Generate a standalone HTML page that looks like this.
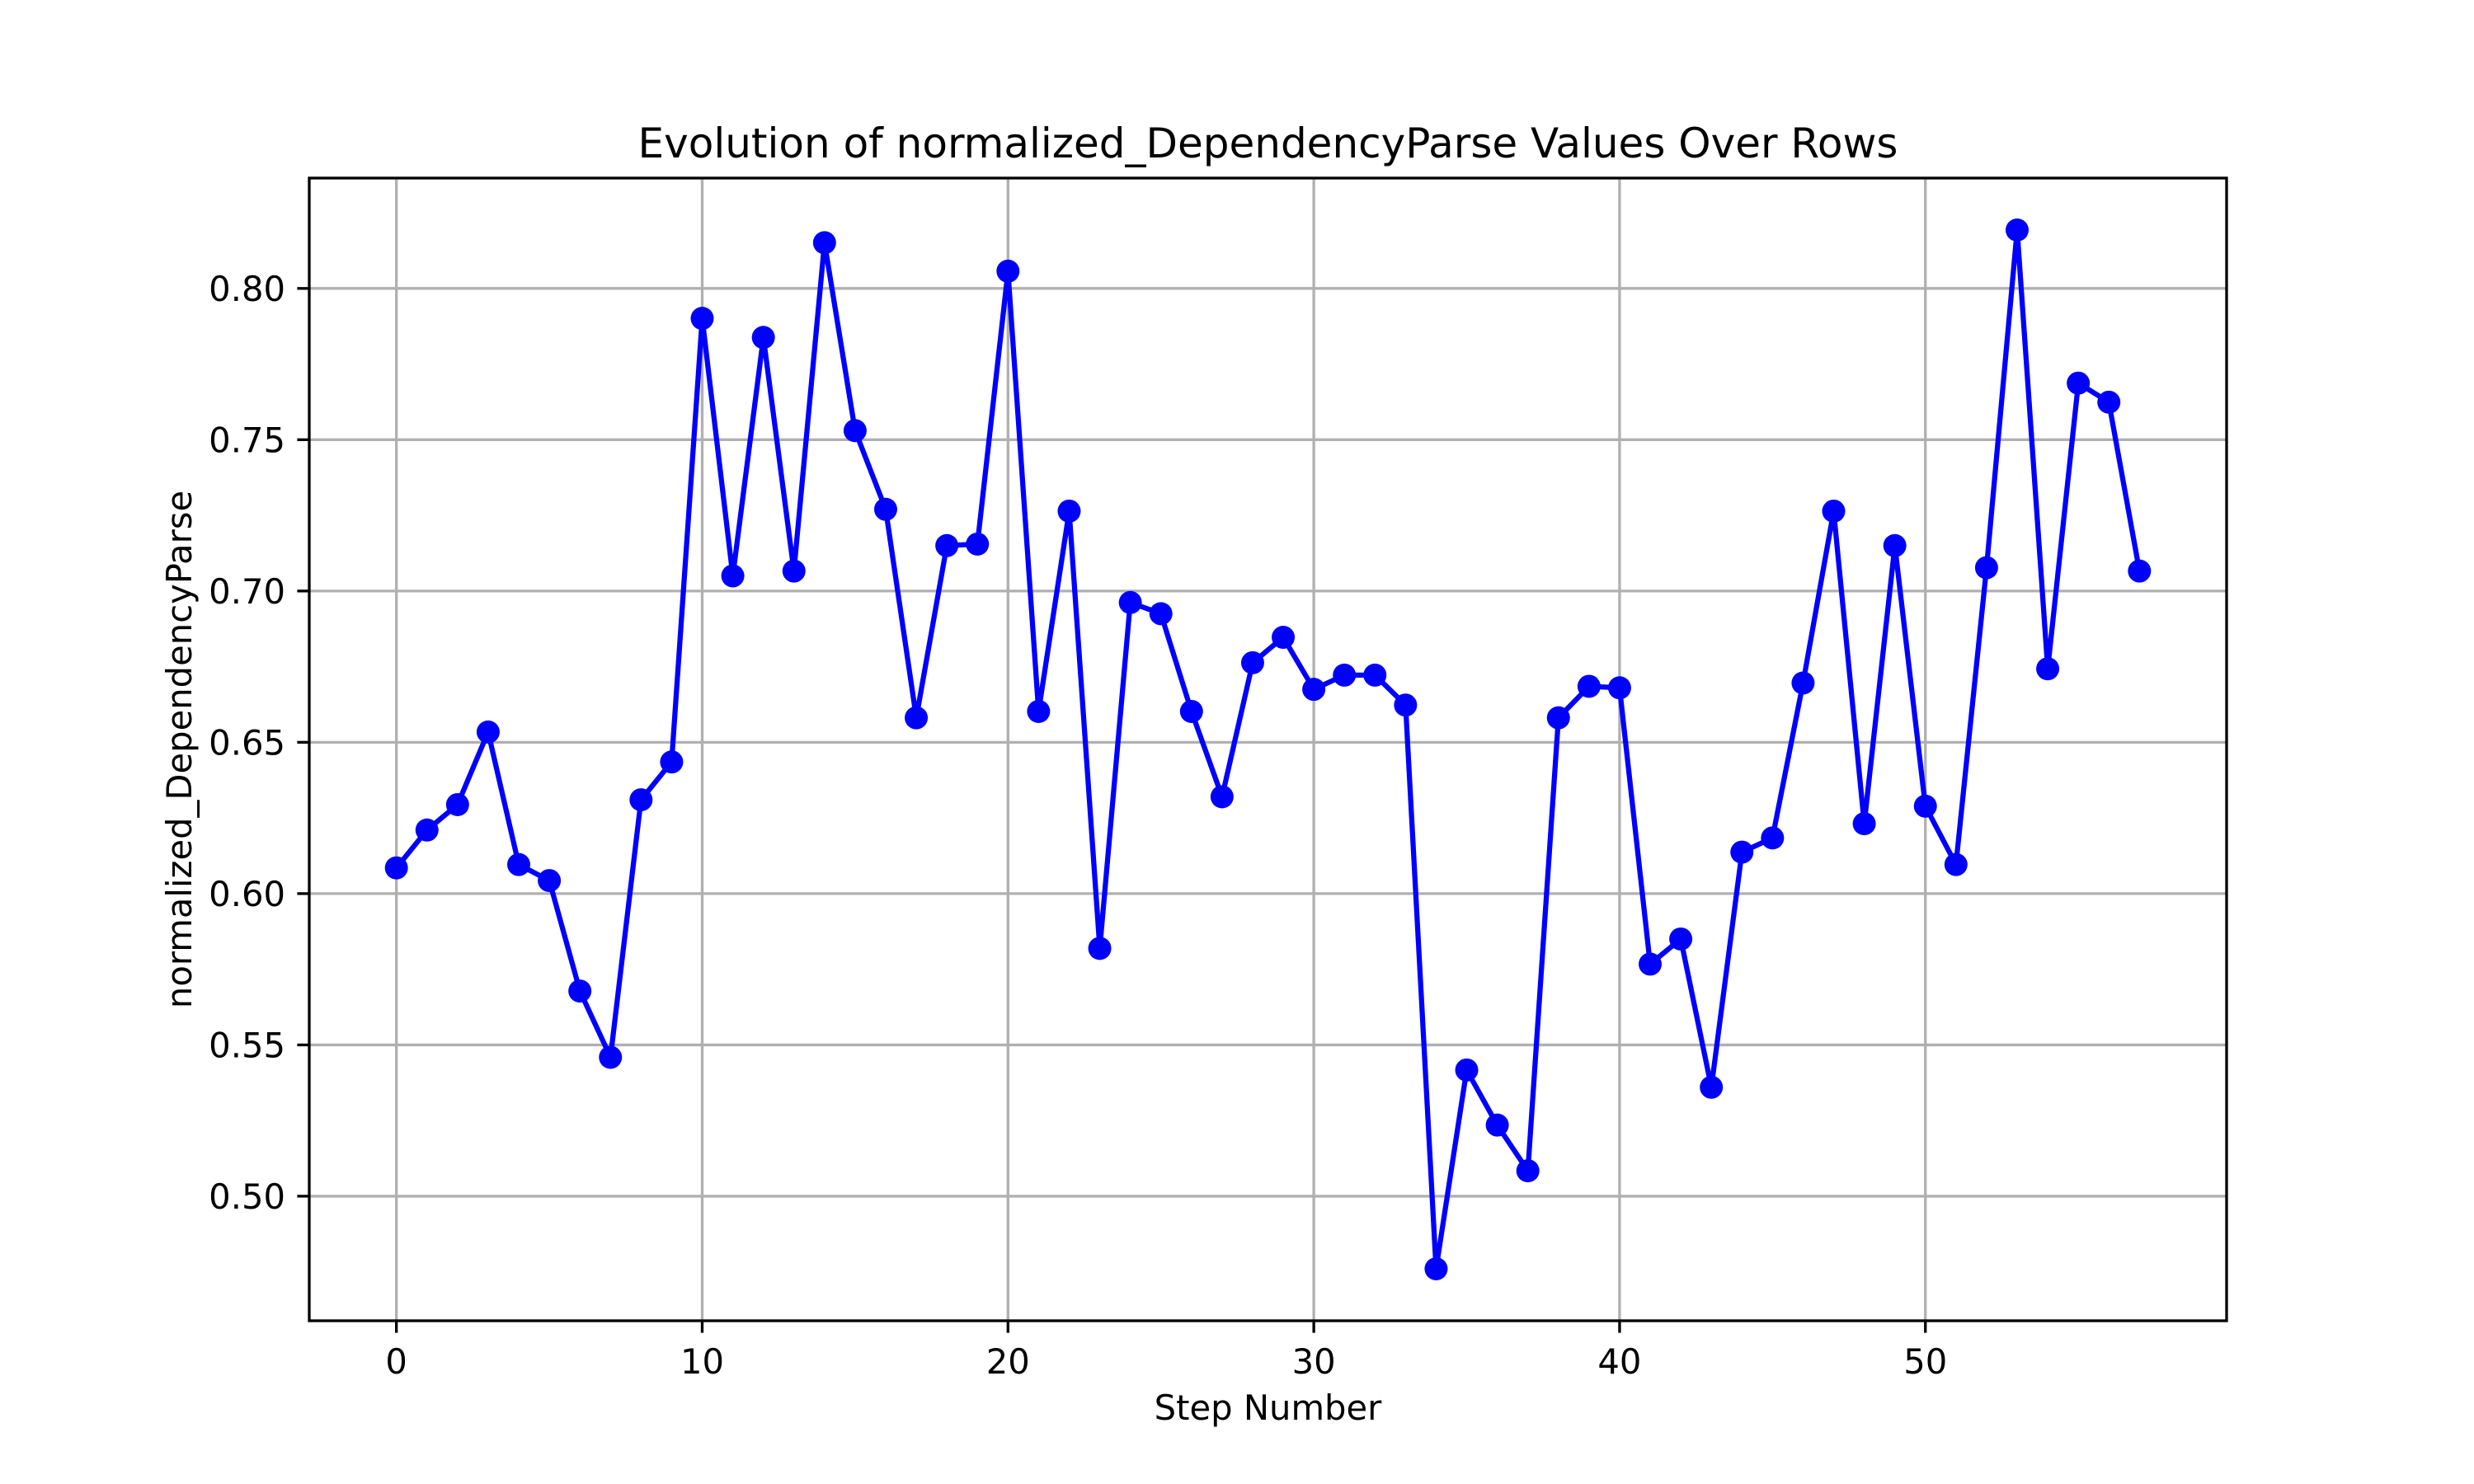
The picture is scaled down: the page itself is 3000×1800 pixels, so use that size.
<!DOCTYPE html>
<html><head><meta charset="utf-8"><style>html,body{margin:0;padding:0;background:#fff}svg{display:block}</style></head>
<body>
<svg id="chart" width="3000" height="1800" xmlns="http://www.w3.org/2000/svg" font-family="'DejaVu Sans', 'Liberation Sans', sans-serif">
<rect width="3000" height="1800" fill="#fff"/>
<g id="grid"></g>
<g id="series"></g>
<rect x="375" y="216" width="2325" height="1386" fill="none" stroke="#000" stroke-width="3.33"/>
<g id="ticks"></g>
<text x="1537.5" y="191" font-size="50" text-anchor="middle">Evolution of normalized_DependencyParse Values Over Rows</text>
<text x="1537.5" y="1722" font-size="41.7" text-anchor="middle">Step Number</text>
<text transform="translate(232,909) rotate(-90)" font-size="41.7" text-anchor="middle">normalized_DependencyParse</text>
</svg>
<script>
const values = [0.6085,0.621,0.6294,0.6534,0.6096,0.6043,0.5678,0.5459,0.631,0.6435,0.7901,0.705,0.7838,0.7066,0.8151,0.753,0.727,0.6581,0.715,0.7155,0.8057,0.6602,0.7264,0.5819,0.6962,0.6925,0.6602,0.632,0.6763,0.6847,0.6675,0.6722,0.6722,0.6623,0.476,0.5417,0.5235,0.5084,0.6581,0.6685,0.668,0.5767,0.585,0.536,0.6137,0.6184,0.6696,0.7264,0.6231,0.715,0.6289,0.6096,0.7077,0.8193,0.6743,0.7687,0.7624,0.7066];
const xTicks = [0,10,20,30,40,50];
const yTicks = [0.50,0.55,0.60,0.65,0.70,0.75,0.80];
const yTickLabels = ["0.50","0.55","0.60","0.65","0.70","0.75","0.80"];

const NS="http://www.w3.org/2000/svg";
const L=375,R=2700,T=216,B=1602;
const n=values.length;
const xm=(n-1)*0.05;
const xmin=-xm,xmax=(n-1)+xm;
const vmin=Math.min(...values),vmax=Math.max(...values);
const ym=(vmax-vmin)*0.05;
const ymin=vmin-ym,ymax=vmax+ym;
const X=v=>L+(v-xmin)/(xmax-xmin)*(R-L);
const Y=v=>B-(v-ymin)/(ymax-ymin)*(B-T);
function mk(tag,attrs,parent){const e=document.createElementNS(NS,tag);for(const k in attrs)e.setAttribute(k,attrs[k]);parent.appendChild(e);return e;}
const grid=document.getElementById('grid'),ticks=document.getElementById('ticks'),series=document.getElementById('series');
xTicks.forEach(t=>{
  const g=mk('line',{x1:X(t),x2:X(t),y1:T,y2:B,stroke:'#b0b0b0','stroke-width':3.33},grid);
  
  
  const tk=mk('line',{x1:X(t),x2:X(t),y1:B,y2:B+14.6,stroke:'#000','stroke-width':3.33},ticks);
  
  
  const tl=mk('text',{x:X(t),y:B+64,'font-size':41.7,'text-anchor':'middle'},ticks);
  tl.textContent=String(t);
  
  
});
yTicks.forEach((t,i)=>{
  const g=mk('line',{x1:L,x2:R,y1:Y(t),y2:Y(t),stroke:'#b0b0b0','stroke-width':3.33},grid);
  
  
  const tk=mk('line',{x1:L-14.6,x2:L,y1:Y(t),y2:Y(t),stroke:'#000','stroke-width':3.33},ticks);
  
  
  const tl=mk('text',{x:L-29,y:Y(t)+15,'font-size':41.7,'text-anchor':'end'},ticks);
  tl.textContent=yTickLabels[i];
  
  
});
const pts=values.map((v,i)=>X(i).toFixed(1)+','+Y(v).toFixed(1)).join(' ');
const pl=mk('polyline',{points:pts,fill:'none',stroke:'#0000ff','stroke-width':6.25,'stroke-linejoin':'round'},series);


values.forEach((v,i)=>{
  const c=mk('circle',{cx:X(i),cy:Y(v),r:14,fill:'#0000ff'},series);
  
  
});
</script>
</body></html>
